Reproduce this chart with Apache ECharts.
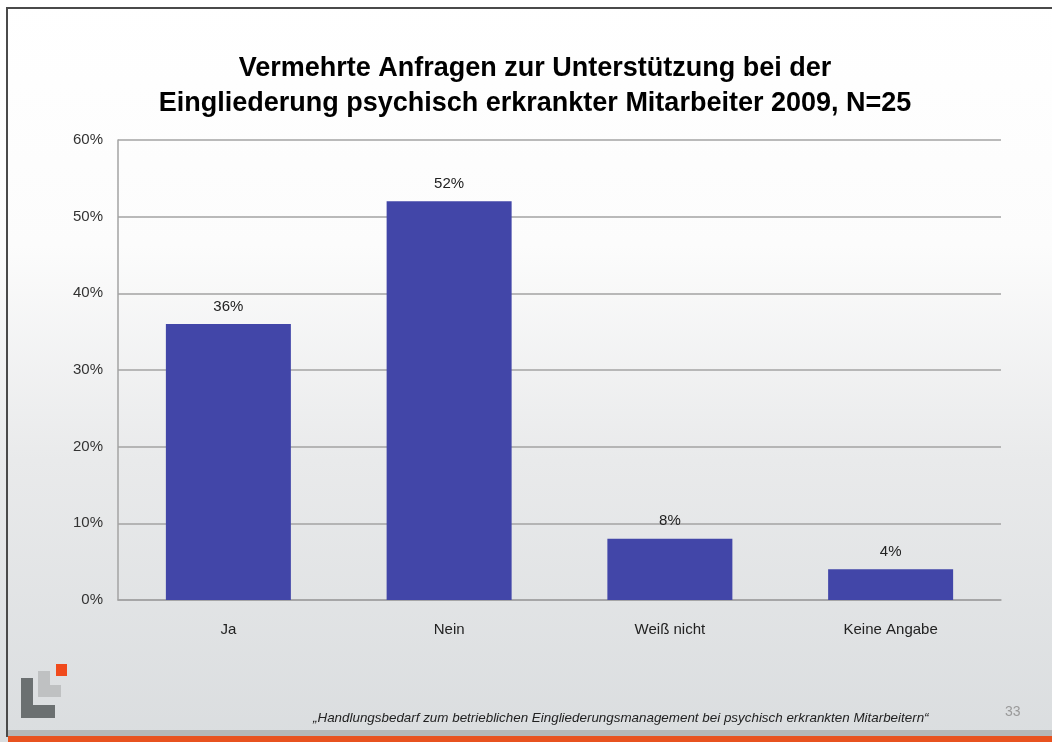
<!DOCTYPE html>
<html>
<head>
<meta charset="utf-8">
<script src="https://cdn.jsdelivr.net/npm/echarts@6/dist/echarts.min.js"></script>
<style>
    html, body { margin: 0; padding: 0; background: #fff; }
    #chart { width: 1052px; height: 742px; }
</style>
</head>
<body>
<div id="chart"></div>
<script>
    // Werte aus der Folie (Prozent)
    const categories = ['Ja', 'Nein', 'Weiß nicht', 'Keine Angabe'];
    const values = [36, 52, 8, 4];
    const yTicks = [0, 10, 20, 30, 40, 50, 60];

    const titleText = 'Vermehrte Anfragen zur Unterstützung bei der\nEingliederung psychisch erkrankter Mitarbeiter 2009, N=25';
    const footerText = '\u201EHandlungsbedarf zum betrieblichen Eingliederungsmanagement bei psychisch erkrankten Mitarbeitern\u201C';
    const pageNo = '33';

    const font = '"Liberation Sans", Arial, sans-serif';

    const myChart = echarts.init(document.getElementById('chart'));

    let options = {
        backgroundColor: new echarts.graphic.LinearGradient(0, 0, 0, 1, [
            { offset: 0, color: '#ffffff' },
            { offset: 0.33, color: '#fcfcfc' },
            { offset: 0.62, color: '#e9eaeb' },
            { offset: 1, color: '#dadddf' }
        ]),
        animation: false,
        title: {
            text: titleText,
            left: 530,
            top: 46,
            textAlign: 'center',
            textStyle: {
                fontFamily: font,
                fontSize: 27,
                fontWeight: 'bold',
                color: '#000',
                lineHeight: 35
            }
        },
        grid: {
            left: 118,
            right: 51,
            top: 140,
            bottom: 142
        },
        xAxis: {
            type: 'category',
            data: categories,
            axisLine: { lineStyle: { color: '#a3a3a3', width: 1.5 } },
            axisTick: { show: false },
            axisLabel: {
                margin: 22,
                fontFamily: font,
                fontSize: 15,
                color: '#222'
            }
        },
        yAxis: {
            type: 'value',
            min: 0,
            max: yTicks[yTicks.length - 1],
            interval: 10,
            axisLine: { show: true, lineStyle: { color: '#a3a3a3', width: 1.5 } },
            axisTick: { show: false },
            splitLine: { lineStyle: { color: '#a3a3a3', width: 1.5 } },
            axisLabel: {
                margin: 15,
                fontFamily: font,
                fontSize: 15,
                color: '#333',
                formatter: '{value}%'
            }
        },
        series: [
            {
                type: 'bar',
                data: values,
                barWidth: 125,
                itemStyle: { color: '#4246a8' },
                label: {
                    show: true,
                    position: 'top',
                    distance: 10,
                    formatter: '{c}%',
                    fontFamily: font,
                    fontSize: 15,
                    color: '#222'
                }
            }
        ],
        graphic: [
            // Rahmen oben / links
            { type: 'rect', shape: { x: 6, y: 7, width: 1046, height: 2 }, style: { fill: '#4a4a4a' } },
            { type: 'rect', shape: { x: 6, y: 7, width: 2, height: 730 }, style: { fill: '#4a4a4a' } },
            // orange Leiste unten
            { type: 'rect', shape: { x: 8, y: 730, width: 1044, height: 6 }, style: { fill: '#b5b7b8' } },
            { type: 'rect', shape: { x: 8, y: 736, width: 1044, height: 6 }, style: { fill: '#e8521f' } },
            // Logo
            { type: 'rect', shape: { x: 38, y: 671, width: 12, height: 26 }, style: { fill: '#bfc1c2' } },
            { type: 'rect', shape: { x: 38, y: 685, width: 23, height: 12 }, style: { fill: '#bfc1c2' } },
            { type: 'rect', shape: { x: 21, y: 678, width: 12, height: 40 }, style: { fill: '#6b7071' } },
            { type: 'rect', shape: { x: 21, y: 705, width: 34, height: 13 }, style: { fill: '#6b7071' } },
            { type: 'rect', shape: { x: 56, y: 664, width: 11, height: 12 }, style: { fill: '#f04a1c' } },
            // Fußzeile
            {
                type: 'text', left: 313, top: 712,
                style: { text: footerText, font: 'italic 13.4px ' + font, fill: '#222' }
            },
            {
                type: 'text', left: 1005, top: 705,
                style: { text: pageNo, font: '14px ' + font, fill: '#9a9a9a' }
            }
        ]
    };

    myChart.setOption(options);
</script>
</body>
</html>
